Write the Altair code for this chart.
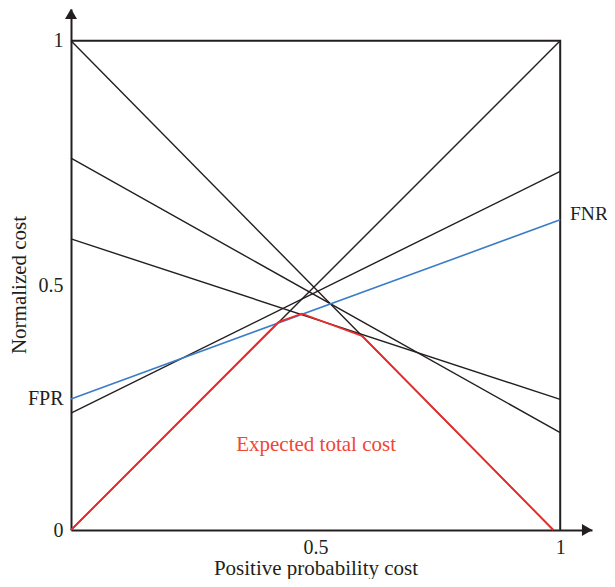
import altair as alt
import pandas as pd

FONT = "Liberation Serif"
INK = "#231f20"

# Cost lines: (x0, y0) -> (x1, y1)
black_x0 = [0.0, 0.0, 0.0, 0.0, 0.0]
black_y0 = [1.0, 0.76, 0.595, 0.0, 0.239]
black_x1 = [0.986, 1.0, 1.0, 1.0, 1.0]
black_y1 = [0.0, 0.199, 0.267, 1.0, 0.733]
blue_left = 0.268
blue_right = 0.634
# Expected total cost (lower envelope)
red_x = [0.0, 0.424, 0.472, 0.596, 0.986]
red_y = [0.0, 0.425, 0.442, 0.396, 0.0]
# Frame (top and right sides)
frame_x = [0.0, 1.0, 1.0]
frame_y = [1.0, 1.0, 0.0]

rows = []
for i in range(len(black_y0)):
    rows.append({"id": f"b{i}", "kind": "black", "x": black_x0[i], "y": black_y0[i], "o": 0})
    rows.append({"id": f"b{i}", "kind": "black", "x": black_x1[i], "y": black_y1[i], "o": 1})
rows.append({"id": "blue", "kind": "blue", "x": 0.0, "y": blue_left, "o": 0})
rows.append({"id": "blue", "kind": "blue", "x": 1.0, "y": blue_right, "o": 1})
for j, (x, y) in enumerate(zip(red_x, red_y)):
    rows.append({"id": "red", "kind": "red", "x": x, "y": y, "o": j})
for j, (x, y) in enumerate(zip(frame_x, frame_y)):
    rows.append({"id": "frame", "kind": "frame", "x": x, "y": y, "o": j})
df = pd.DataFrame(rows)

arrows = pd.DataFrame({"x": [0.0, 1.055], "y": [1.055, 0.0],
                       "shape": ["triangle-up", "triangle-right"]})

notes = pd.DataFrame({"x": [0.501], "y": [0.162], "t": ["Expected total cost"]})
fnr = pd.DataFrame({"x": [1.02], "y": [0.634], "t": ["FNR"]})

xs = alt.Scale(domain=[0, 1.065], nice=False, zero=False)
ys = alt.Scale(domain=[0, 1.065], nice=False, zero=False)

xaxis = alt.Axis(values=[0.5, 1], labelExpr="datum.value == 1 ? '1' : '0.5'",
                 ticks=False, grid=False, domainColor=INK, domainWidth=2,
                 labelFont=FONT, labelFontSize=20, labelColor=INK, labelPadding=7,
                 labelFlush=False, title="Positive probability cost",
                 titleFont=FONT, titleFontSize=21, titleFontWeight="normal",
                 titleColor=INK, titleX=244.5, titleY=44, titleBaseline="alphabetic")
yaxis = alt.Axis(values=[0, 0.268, 0.5, 1],
                 labelExpr="datum.value == 0 ? '0' : datum.value == 1 ? '1' : datum.value == 0.5 ? '0.5' : 'FPR'",
                 ticks=False, grid=False, domainColor=INK, domainWidth=2,
                 labelFont=FONT, labelFontSize=20, labelColor=INK, labelPadding=8,
                 labelFlush=False, title="Normalized cost",
                 titleFont=FONT, titleFontSize=21, titleFontWeight="normal",
                 titleColor=INK, titleX=-46, titleY=275.5, titleAngle=270,
                 titleBaseline="alphabetic")

X = alt.X("x:Q", scale=xs, axis=xaxis)
Y = alt.Y("y:Q", scale=ys, axis=yaxis)

base = alt.Chart(df).encode(x=X, y=Y, detail="id:N", order="o:Q")

frame = base.transform_filter("datum.kind == 'frame'").mark_line(color=INK, strokeWidth=2)
black = base.transform_filter("datum.kind == 'black'").mark_line(color=INK, strokeWidth=1.4)
blue = base.transform_filter("datum.kind == 'blue'").mark_line(color="#3a7cc8", strokeWidth=1.6)
red = base.transform_filter("datum.kind == 'red'").mark_line(color="#ee2b2b", strokeWidth=1.8)

arrow = alt.Chart(arrows).mark_point(filled=True, size=144, color=INK, opacity=1).encode(
    x=X, y=Y, shape=alt.Shape("shape:N", scale=None))

label_red = alt.Chart(notes).mark_text(font=FONT, fontSize=21, color="#ef4636",
                                       align="center", baseline="alphabetic").encode(
    x=X, y=Y, text="t:N")
label_fnr = alt.Chart(fnr).mark_text(font=FONT, fontSize=19.5, color=INK,
                                     align="left", baseline="alphabetic").encode(
    x=X, y=Y, text="t:N")

chart = alt.layer(frame, black, blue, red, arrow, label_red, label_fnr).properties(
    width=521, height=521,
    autosize=alt.AutoSizeParams(type="none"),
    padding={"left": 63, "top": 1, "right": 15, "bottom": 49},
).configure_view(stroke=None)

chart.save("out.html", embed_options={"renderer": "svg", "actions": False})
